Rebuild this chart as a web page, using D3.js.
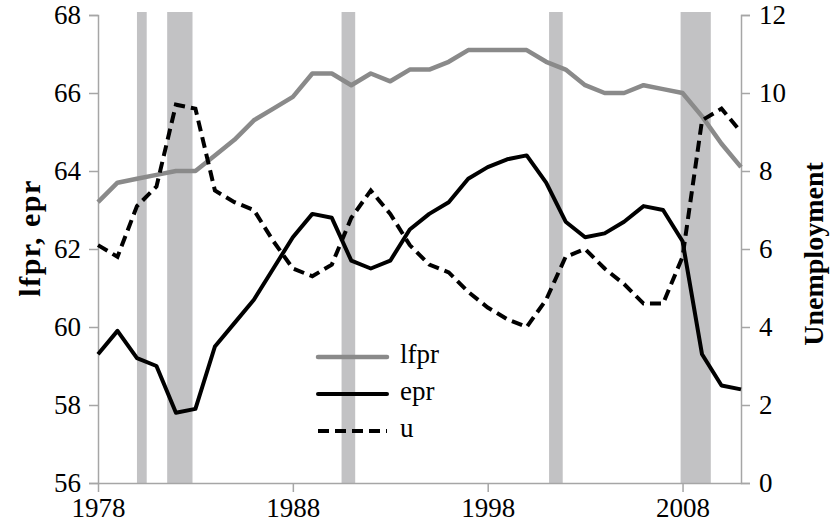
<!DOCTYPE html>
<html>
<head>
<meta charset="utf-8">
<script src="https://cdn.jsdelivr.net/npm/d3@7"></script>
<style>
  body { margin: 0; background: #fff; }
  text { font-family: "Liberation Serif", "DejaVu Serif", serif; }
</style>
</head>
<body>
<div id="vis"></div>
<script>
// annual data, 1978-2011
const years = d3.range(1978, 2012);
const lfpr = [63.2, 63.7, 63.8, 63.9, 64.0, 64.0, 64.4, 64.8, 65.3, 65.6, 65.9, 66.5, 66.5, 66.2, 66.5, 66.3, 66.6, 66.6, 66.8, 67.1, 67.1, 67.1, 67.1, 66.8, 66.6, 66.2, 66.0, 66.0, 66.2, 66.1, 66.0, 65.4, 64.7, 64.1];
const epr = [59.3, 59.9, 59.2, 59.0, 57.8, 57.9, 59.5, 60.1, 60.7, 61.5, 62.3, 62.9, 62.8, 61.7, 61.5, 61.7, 62.5, 62.9, 63.2, 63.8, 64.1, 64.3, 64.4, 63.7, 62.7, 62.3, 62.4, 62.7, 63.1, 63.0, 62.2, 59.3, 58.5, 58.4];
const unemp = [6.1, 5.8, 7.1, 7.6, 9.7, 9.6, 7.5, 7.2, 7.0, 6.2, 5.5, 5.3, 5.6, 6.8, 7.5, 6.9, 6.1, 5.6, 5.4, 4.9, 4.5, 4.2, 4.0, 4.7, 5.8, 6.0, 5.5, 5.1, 4.6, 4.6, 5.8, 9.3, 9.6, 9.0];

// recessions [start, end]
const recessions = [[1980.0, 1980.5], [1981.55, 1982.85], [1990.5, 1991.2], [2001.15, 2001.85], [2007.9, 2009.45]];

const xTicks = [1978, 1988, 1998, 2008];
const leftTicks = [56, 58, 60, 62, 64, 66, 68];
const rightTicks = [0, 2, 4, 6, 8, 10, 12];

const legendItems = [
  { name: "lfpr", color: "#8a8a8a", dash: null },
  { name: "epr", color: "#000", dash: null },
  { name: "u", color: "#000", dash: "11,6" }
];

const W = 835, H = 529;
const margin = { top: 15, right: 94, bottom: 46, left: 98 };
const width = W - margin.left - margin.right;
const height = H - margin.top - margin.bottom;

const svg = d3.select("#vis").append("svg")
  .attr("width", W)
  .attr("height", H);

const g = svg.append("g")
  .attr("transform", `translate(${margin.left},${margin.top})`);

const x = d3.scaleLinear().domain([1978, 2011]).range([0, width]);
const yL = d3.scaleLinear().domain([56, 68]).range([height, 0]);
const yR = d3.scaleLinear().domain([0, 12]).range([height, 0]);

// recession bars
g.selectAll("rect.rec")
  .data(recessions)
  .enter().append("rect")
  .attr("class", "rec")
  .attr("x", d => x(d[0]))
  .attr("width", d => x(d[1]) - x(d[0]))
  .attr("y", -3)
  .attr("height", height + 3)
  .attr("fill", "#c2c2c4");

// axes
function styleAxis(sel) {
  sel.select(".domain").attr("stroke", "#a6a6a6").attr("stroke-width", 1.5);
  sel.selectAll(".tick line").attr("stroke", "#a6a6a6").attr("stroke-width", 1.5);
  sel.selectAll(".tick text").attr("fill", "#000").style("font-size", "27px");
}

g.append("g")
  .call(d3.axisLeft(yL).tickValues(leftTicks).tickSize(9).tickSizeOuter(9).tickPadding(8))
  .call(styleAxis);

g.append("g")
  .attr("transform", `translate(${width},0)`)
  .call(d3.axisRight(yR).tickValues(rightTicks).tickSize(9).tickSizeOuter(9).tickPadding(9))
  .call(styleAxis);

g.append("g")
  .attr("transform", `translate(0,${height})`)
  .call(d3.axisBottom(x).tickValues(xTicks).tickFormat(d3.format("d")).tickSize(9).tickSizeOuter(0).tickPadding(6))
  .call(styleAxis);

// lines
const lineL = d3.line().x((d, i) => x(years[i])).y(d => yL(d));
const lineR = d3.line().x((d, i) => x(years[i])).y(d => yR(d));

g.append("path").datum(lfpr)
  .attr("fill", "none").attr("stroke", "#8a8a8a").attr("stroke-width", 4.5)
  .attr("stroke-linejoin", "round")
  .attr("d", lineL);

g.append("path").datum(epr)
  .attr("fill", "none").attr("stroke", "#000").attr("stroke-width", 4)
  .attr("stroke-linejoin", "round")
  .attr("d", lineL);

g.append("path").datum(unemp)
  .attr("fill", "none").attr("stroke", "#000").attr("stroke-width", 4)
  .attr("stroke-dasharray", "11,6")
  .attr("d", lineR);

// axis titles
svg.append("text")
  .attr("transform", `translate(40,238) rotate(-90)`)
  .attr("text-anchor", "middle")
  .style("font-size", "30px").style("font-weight", "bold")
  .style("letter-spacing", "1.5px")
  .text("lfpr, epr");

svg.append("text")
  .attr("transform", `translate(823,254) rotate(-90)`)
  .attr("text-anchor", "middle")
  .style("font-size", "28px").style("font-weight", "bold")
  .text("Unemployment");

// legend
const legend = svg.append("g").attr("transform", "translate(318,357)");
legendItems.forEach((d, i) => {
  const yOff = i * 37;
  legend.append("line")
    .attr("x1", 0).attr("x2", 69)
    .attr("y1", yOff).attr("y2", yOff)
    .attr("stroke", d.color).attr("stroke-width", d.name === "lfpr" ? 4.5 : 4)
    .attr("stroke-linecap", d.dash ? "butt" : "round")
    .attr("stroke-dasharray", d.dash);
  legend.append("text")
    .attr("x", 82).attr("y", yOff)
    .attr("dominant-baseline", "middle")
    .style("font-size", "27px")
    .text(d.name);
});
</script>
</body>
</html>
